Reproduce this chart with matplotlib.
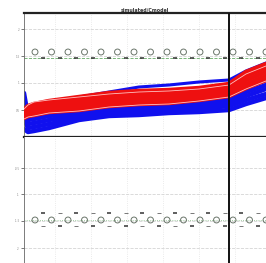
import matplotlib
matplotlib.use("Agg")
import matplotlib.pyplot as plt

# ---- data (pixel-like units) ----
xs = [0, 4, 10, 25, 55, 85, 115, 145, 175, 205, 222, 242]

red_curves = [
    [27, 31, 33, 36, 40, 44, 46, 47, 49, 53, 65, 73],
    [25, 28.5, 30, 33, 37, 41, 43, 44, 46, 50, 61, 69],
    [23, 26, 27.5, 30.5, 33.5, 37.5, 39.5, 40.5, 43, 47, 57, 65],
    [21, 23.5, 25, 28, 30, 34, 36, 37, 40, 44, 53, 61],
    [19, 21, 22, 25, 27, 31, 33, 34, 37, 41, 49, 57],
]
pink_curves = [
    [28, 32, 35, 37, 40, 43, 45, 46, 48, 52, 63, 71],
    [18, 20, 21, 24, 26, 30, 32, 33, 36, 40, 48, 56],
]

blue_top_curve = [25, 28, 30, 34, 40, 45, 50, 52, 55, 57, 66, 74]
blue_curves = [
    [44, 21, 22, 25, 27, 31, 33, 34, 37, 41, 49, 57],
    [36, 17, 18, 21, 24, 28, 30, 31, 34, 37, 45, 52],
    [28, 13, 14, 17, 22, 26, 27, 29, 31, 34, 41, 48],
    [18, 9, 10, 13, 19, 23, 25, 26, 28, 31, 37, 43],
    [8, 5, 6, 9, 17, 21, 22, 24, 25, 27, 33, 39],
]

circle_x = [11, 27.5, 44, 60.5, 77, 93.5, 110, 126.5, 143, 159.5, 176, 192.5, 209, 225.5, 242]
top_circle_y = 85
top_dash_y = 79
bot_circle_y = 43
bot_up_y = 50
bot_low_y = 37
dash_x = [19, 35.5, 52, 68.5, 85, 101.5, 118, 134.5, 151, 167.5, 184, 200.5, 217, 233.5]

top_ticks = [27, 54, 81, 108]
top_ticklabels = ["0.5", "1", "1.5", "2"]
bot_ticks = [15, 42, 69, 95]
bot_ticklabels = ["-2", "-1.5", "-1", "-0.5"]
vgrid = [31, 67, 103, 139, 175, 211]
marker_line_x = 205
title_text = "simulated/Cmodel"

W, H = 266, 263
fig = plt.figure(figsize=(W / 100, H / 100), dpi=100)

left = 24 / W
width = 1 - left
ax1 = fig.add_axes([left, 1 - 137 / H, width, (137 - 13) / H])
ax2 = fig.add_axes([left, 0, width, 126 / H])

for ax in (ax1, ax2):
    ax.set_xlim(0, 242)
    ax.set_xticks(vgrid)
    ax.set_xticklabels([])
    ax.tick_params(axis="x", length=0)
    for g in vgrid:
        ax.axvline(g, color="#e4e4e4", lw=0.6, ls=":", zorder=0)
    ax.spines["right"].set_visible(False)
    ax.spines["left"].set_color("#666666")
    ax.spines["left"].set_linewidth(0.6)
    ax.tick_params(axis="y", length=2, width=0.5, color="#444444",
                   labelsize=2, labelcolor="#888888", pad=1)
    ax.axvline(marker_line_x, color="#111111", lw=1.4, zorder=5)

# top panel
ax1.set_ylim(0, 124)
ax1.set_yticks(top_ticks)
ax1.set_yticklabels(top_ticklabels)
for t in top_ticks:
    ax1.axhline(t, color="#d4d4d4", lw=0.6, ls="--", zorder=0)
ax1.spines["top"].set_linewidth(1.6)
ax1.spines["bottom"].set_linewidth(1.6)
ax1.spines["top"].set_color("#222222")
ax1.spines["bottom"].set_color("#222222")

ax1.plot(xs, blue_top_curve, color="#1010ee", lw=2.2, zorder=2)
for c in blue_curves:
    ax1.plot(xs, c, color="#1010ee", lw=3.2, solid_capstyle="round", zorder=2)
for c in red_curves:
    ax1.plot(xs, c, color="#ee1010", lw=3.2, solid_capstyle="round", zorder=3)
for c in pink_curves:
    ax1.plot(xs, c, color="#ffc0c0", lw=0.6, zorder=4)

ax1.axhline(top_dash_y, color="#66aa66", lw=0.6, ls="--", zorder=1)
ax1.scatter(circle_x, [top_circle_y] * len(circle_x), s=18, facecolors="none",
            edgecolors="#6a756a", linewidths=0.7, zorder=4)
ax1.scatter(dash_x, [top_dash_y] * len(dash_x), marker="_", s=9,
            color="#333333", linewidths=1.1, zorder=4)
ax1.set_title(title_text, fontsize=3.4, fontweight="bold", color="#333333", pad=1)

# bottom panel
ax2.set_ylim(0, 126)
ax2.set_yticks(bot_ticks)
ax2.set_yticklabels(bot_ticklabels)
for t in bot_ticks:
    ax2.axhline(t, color="#d4d4d4", lw=0.6, ls="--", zorder=0)
ax2.spines["top"].set_visible(False)
ax2.spines["bottom"].set_visible(False)
ax2.axhline(bot_circle_y, color="#88bb88", lw=0.6, ls=":", zorder=1)
ax2.scatter(circle_x, [bot_circle_y] * len(circle_x), s=18, facecolors="none",
            edgecolors="#6a756a", linewidths=0.7, zorder=4)
ax2.scatter(dash_x[::2], [bot_up_y] * len(dash_x[::2]), marker="_", s=9,
            color="#333333", linewidths=1.1, zorder=4)
ax2.scatter(dash_x[1::2], [bot_low_y] * len(dash_x[1::2]), marker="_", s=9,
            color="#333333", linewidths=1.1, zorder=4)
ax2.scatter(dash_x[1::2], [bot_up_y] * len(dash_x[1::2]), marker="_", s=5,
            color="#777777", linewidths=0.7, zorder=4)
ax2.scatter(dash_x[::2], [bot_low_y] * len(dash_x[::2]), marker="_", s=5,
            color="#777777", linewidths=0.7, zorder=4)

fig.savefig("out.png", dpi=100)
